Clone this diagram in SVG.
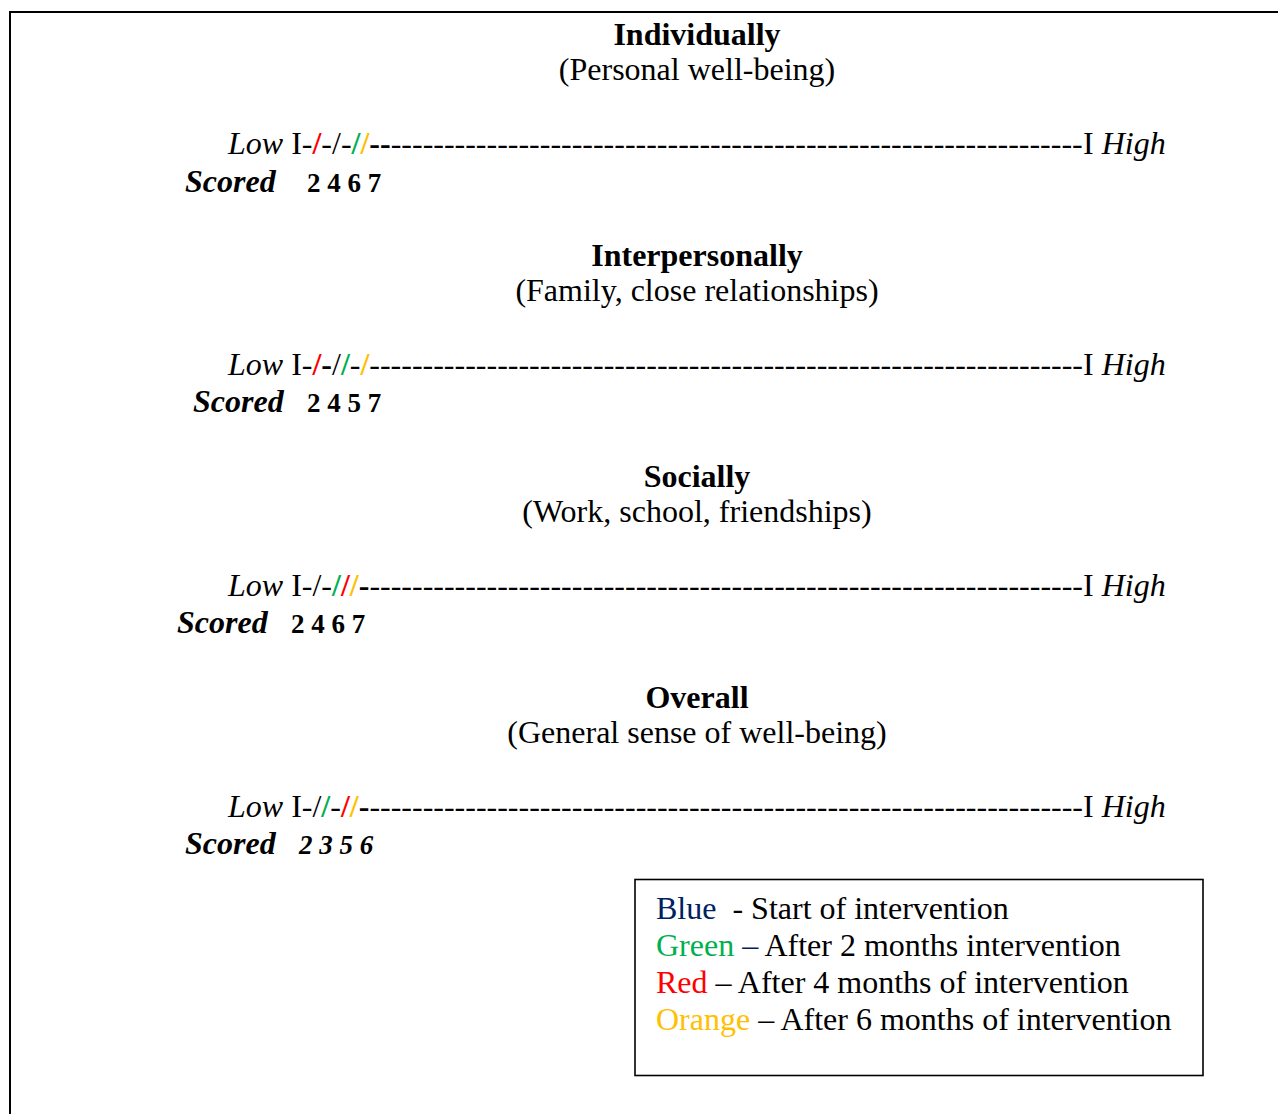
<svg xmlns="http://www.w3.org/2000/svg" width="1278" height="1114" viewBox="0 0 1278 1114">
  <style>
    text { font-family: "Liberation Serif", "Times New Roman", serif; font-size: 32px; fill: #000; }
    .title { font-weight: bold; text-anchor: middle; }
    .sub { text-anchor: middle; }
    .it { font-style: italic; }
    .b { font-weight: bold; }
    .scored { font-weight: bold; font-style: italic; }
    .num { font-weight: bold; font-size: 27px; }
    .red { fill: #ff0000; }
    .green { fill: #00b050; }
    .orange { fill: #ffc000; }
    .blue { fill: #002060; }
    .mark { font-weight: bold; }
    .frame { fill: none; stroke: #000; stroke-width: 2; }
  </style>

  <!-- page frame: left and top rules -->
  <path class="frame" d="M10,1114 V12 H1278"/>

  <!-- Individually -->
  <g id="individually">
    <text class="title" x="697" y="45">Individually</text>
    <text class="sub" x="697" y="80">(Personal well-being)</text>
    <text x="228" y="154"><tspan class="it">Low</tspan> I-<tspan class="mark red">/</tspan>-/-<tspan class="mark green">/</tspan><tspan class="mark orange">/</tspan><tspan class="b">--</tspan></text>
    <text x="390.7" y="154" textLength="692" lengthAdjust="spacing">-----------------------------------------------------------------</text>
    <text x="1083" y="154">I <tspan class="it">High</tspan></text>
    <text class="scored" x="185" y="192">Scored</text>
    <text class="num" x="307" y="192">2 4 6 7</text>
  </g>

  <!-- Interpersonally -->
  <g id="interpersonally">
    <text class="title" x="697" y="266">Interpersonally</text>
    <text class="sub" x="697" y="301">(Family, close relationships)</text>
    <text x="228" y="375"><tspan class="it">Low</tspan> I-<tspan class="mark red">/</tspan><tspan class="b">-</tspan>/<tspan class="mark green">/</tspan>-<tspan class="mark orange">/</tspan></text>
    <text x="369.3" y="375" textLength="713.7" lengthAdjust="spacing">-------------------------------------------------------------------</text>
    <text x="1083" y="375">I <tspan class="it">High</tspan></text>
    <text class="scored" x="193" y="412">Scored</text>
    <text class="num" x="307" y="412">2 4 5 7</text>
  </g>

  <!-- Socially -->
  <g id="socially">
    <text class="title" x="697" y="487">Socially</text>
    <text class="sub" x="697" y="522">(Work, school, friendships)</text>
    <text x="228" y="596"><tspan class="it">Low</tspan> I-/-<tspan class="mark green">/</tspan><tspan class="mark red">/</tspan><tspan class="mark orange">/</tspan><tspan class="b">-</tspan></text>
    <text x="369.4" y="596" textLength="713.6" lengthAdjust="spacing">-------------------------------------------------------------------</text>
    <text x="1083" y="596">I <tspan class="it">High</tspan></text>
    <text class="scored" x="177" y="633">Scored</text>
    <text class="num" x="291" y="633">2 4 6 7</text>
  </g>

  <!-- Overall -->
  <g id="overall">
    <text class="title" x="697" y="708">Overall</text>
    <text class="sub" x="697" y="743">(General sense of well-being)</text>
    <text x="228" y="817"><tspan class="it">Low</tspan> I-/<tspan class="mark green">/</tspan>-<tspan class="mark red">/</tspan><tspan class="mark orange">/</tspan><tspan class="b">-</tspan></text>
    <text x="369.4" y="817" textLength="713.6" lengthAdjust="spacing">-------------------------------------------------------------------</text>
    <text x="1083" y="817">I <tspan class="it">High</tspan></text>
    <text class="scored" x="185" y="854">Scored</text>
    <text class="num scored" x="299" y="854">2 3 5 6</text>
  </g>

  <!-- colour key -->
  <g id="legend">
    <rect x="635" y="879.5" width="568" height="196" fill="#fff" stroke="#000" stroke-width="1.6"/>
    <text x="656" y="919" xml:space="preserve"><tspan class="blue">Blue</tspan>  - Start of intervention</text>
    <text x="656" y="956"><tspan class="green">Green</tspan> <tspan class="blue">–</tspan> After 2 months intervention</text>
    <text x="656" y="993"><tspan class="red">Red</tspan> – After 4 months of intervention</text>
    <text x="656" y="1030"><tspan class="orange">Orange</tspan> – After 6 months of intervention</text>
  </g>
</svg>
